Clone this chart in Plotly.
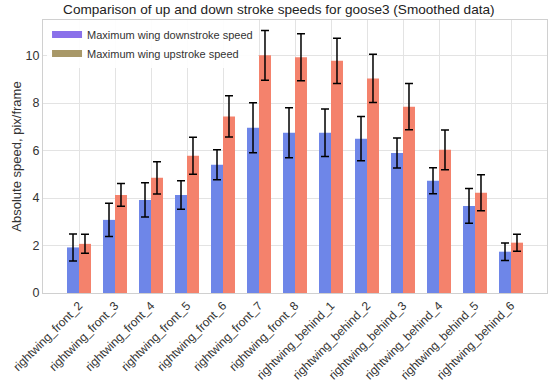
import plotly.graph_objects as go

categories = ["rightwing_front_2", "rightwing_front_3", "rightwing_front_4", "rightwing_front_5",
              "rightwing_front_6", "rightwing_front_7", "rightwing_front_8", "rightwing_behind_1",
              "rightwing_behind_2", "rightwing_behind_3", "rightwing_behind_4", "rightwing_behind_5",
              "rightwing_behind_6"]
down_speed = [1.92, 3.08, 3.92, 4.13, 5.40, 6.96, 6.75, 6.75, 6.50, 5.90, 4.73, 3.67, 1.74]
down_err = [0.57, 0.70, 0.72, 0.60, 0.63, 1.05, 1.05, 1.00, 0.93, 0.63, 0.55, 0.73, 0.37]
up_speed = [2.07, 4.13, 4.85, 5.78, 7.44, 10.01, 9.93, 9.78, 9.04, 7.85, 6.03, 4.22, 2.12]
up_err = [0.40, 0.48, 0.68, 0.78, 0.87, 1.05, 0.99, 0.95, 1.02, 0.97, 0.84, 0.76, 0.36]
y_ticks = [0, 2, 4, 6, 8, 10]

font = "Liberation Sans, Arial, sans-serif"
fig = go.Figure()
fig.add_trace(go.Bar(x=categories, y=down_speed, name="Maximum wing downstroke speed",
                     width=0.333, offset=-0.333,
                     marker=dict(color="#6e86e8", line=dict(width=0)), showlegend=False,
                     error_y=dict(type="data", array=down_err, color="black", thickness=1.5, width=4)))
fig.add_trace(go.Bar(x=categories, y=up_speed, name="Maximum wing upstroke speed",
                     width=0.333, offset=0.0,
                     marker=dict(color="#f4826c", line=dict(width=0)), showlegend=False,
                     error_y=dict(type="data", array=up_err, color="black", thickness=1.5, width=4)))
# legend entries (legend swatches only)
fig.add_trace(go.Scatter(x=[None], y=[None], mode="lines", name="Maximum wing downstroke speed",
                         line=dict(color="#8a70ea", width=7)))
fig.add_trace(go.Scatter(x=[None], y=[None], mode="lines", name="Maximum wing upstroke speed",
                         line=dict(color="#a89868", width=7)))

fig.update_layout(
    width=550, height=384,
    margin=dict(l=43, r=3, t=20, b=91),
    paper_bgcolor="white", plot_bgcolor="white",
    barmode="overlay",
    font=dict(family=font, size=12, color="#333333"),
    title=dict(text="Comparison of up and down stroke speeds for goose3 (Smoothed data)",
               x=0.507, xanchor="center", y=0.977, yanchor="middle",
               font=dict(size=13.6, color="#222222")),
    legend=dict(x=0.008, y=1.0, xanchor="left", yanchor="top", bgcolor="rgba(255,255,255,0.9)",
                font=dict(size=11, color="#333333"), itemwidth=30, tracegroupgap=0),
    xaxis=dict(range=[-1, 13], tickangle=-45, showgrid=True, gridcolor="#e3e3e3", gridwidth=1,
               showline=True, linecolor="#d0d0d0", mirror=True, ticks="", automargin=False,
               tickfont=dict(size=12, color="#333333")),
    yaxis=dict(range=[0, 11.5], tickvals=y_ticks, showgrid=True, gridcolor="#e3e3e3",
               showline=True, linecolor="#d0d0d0", mirror=True, zeroline=False, ticks="",
               automargin=False,
               title=dict(text="Absolute speed, pix/frame", font=dict(size=13, color="#333333"), standoff=1),
               tickfont=dict(size=12.5, color="#333333")),
)
fig.write_html("out.html", config={"displayModeBar": False},
               post_script="document.body.style.margin='0px';")
